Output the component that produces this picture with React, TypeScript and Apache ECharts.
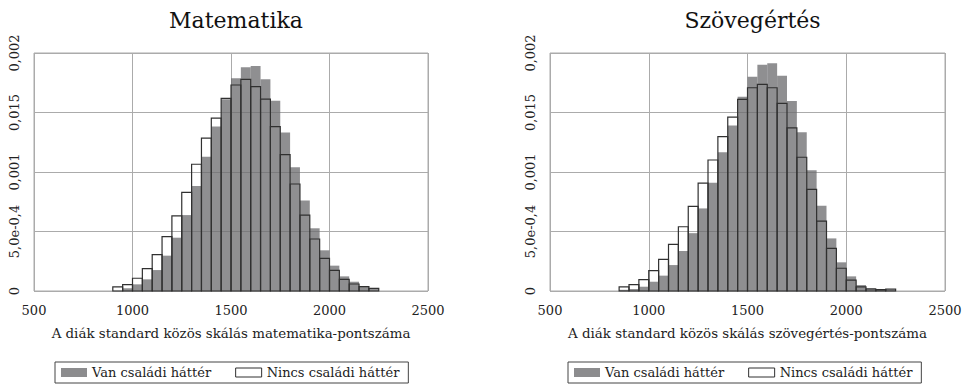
import React, { useEffect, useRef } from "react";
import * as echarts from "echarts";

const FONT = "DejaVu Serif";
const BIN_WIDTH = 50;

const titles = ["Matematika", "Szövegértés"];
const xAxisNames = [
  "A diák standard közös skálás matematika-pontszáma",
  "A diák standard közös skálás szövegértés-pontszáma",
];
const seriesNames = ["Van családi háttér", "Nincs családi háttér"];
const yTickLabels = ["0", "5,0e-0,4", "0,001", "0,015", "0,002"];

// Matematika: bins of 50 points starting at 900
const mathBinStart = 900;
const mathVan = [
  0, 0.000023, 0.000056, 0.000098, 0.000176, 0.000297, 0.000448, 0.000638, 0.000882,
  0.001129, 0.001382, 0.001611, 0.001787, 0.00188, 0.001891, 0.001779, 0.001599,
  0.001331, 0.001039, 0.000761, 0.000527, 0.000342, 0.000213, 0.000123, 0.000078,
  0.000042, 0.000025,
];
const mathNincs = [
  0.000034, 0.000053, 0.000107, 0.000188, 0.000305, 0.000457, 0.000632, 0.000829,
  0.001065, 0.001284, 0.001452, 0.001619, 0.001731, 0.001779, 0.001717, 0.001613,
  0.001381, 0.001146, 0.000899, 0.000638, 0.000437, 0.000275, 0.000174, 0.000098,
  0.000059, 0.000036, 0.000022,
];

// Szövegértés: bins of 50 points starting at 850
const readBinStart = 850;
const readVan = [
  0.00001, 0.000017, 0.000036, 0.000078, 0.000129, 0.000218, 0.000336, 0.000486,
  0.000694, 0.00091, 0.001166, 0.00139, 0.001633, 0.001801, 0.001902, 0.001913,
  0.001809, 0.001597, 0.001334, 0.001014, 0.000716, 0.000442, 0.000241, 0.000123,
  0.00005, 0.000025, 0.000013, 0.000017,
];
const readNincs = [
  0.000034, 0.000053, 0.000095, 0.000171, 0.000266, 0.000392, 0.00054, 0.000711,
  0.000907, 0.001101, 0.001298, 0.001461, 0.001611, 0.001708, 0.001737, 0.001708,
  0.001577, 0.001371, 0.001124, 0.000854, 0.000587, 0.000359, 0.000191, 0.000092,
  0.000034, 0.000017, 0.000011, 0.000017,
];

const GRAY_FILL = "rgba(108,108,110,0.76)";
const OUTLINE = "#303030";
const GRID_COLOR = "#ababab";

function toBins(start: number, values: number[]) {
  return values.map((v, i) => [start + i * BIN_WIDTH, start + (i + 1) * BIN_WIDTH, v]);
}

function makeRender(filled: boolean) {
  return (params: any, api: any) => {
    const x0 = api.value(0);
    const x1 = api.value(1);
    const v = api.value(2);
    if (!v) return null;
    const p0 = api.coord([x0, v]);
    const p1 = api.coord([x1, 0]);
    return {
      type: "rect",
      shape: { x: p0[0], y: p0[1], width: p1[0] - p0[0], height: p1[1] - p0[1] },
      style: filled
        ? { fill: GRAY_FILL, stroke: null }
        : { fill: "none", stroke: OUTLINE, lineWidth: 1.2 },
    };
  };
}

export default function App() {
  const ref = useRef<HTMLDivElement>(null);
  useEffect(() => {
    if (!ref.current) return;
    const chart = echarts.init(ref.current, undefined, { renderer: "svg" });
    const grids = [
      { left: 34, top: 53, width: 394, height: 238 },
      { left: 550, top: 53, width: 395, height: 238 },
    ];
    const centers = grids.map((g) => g.left + g.width / 2);
    const panels = [
      { start: mathBinStart, van: mathVan, nincs: mathNincs },
      { start: readBinStart, van: readVan, nincs: readNincs },
    ];
    const legendLefts = [55, 568];

    const option: any = {
      animation: false,
      backgroundColor: "#ffffff",
      title: titles.map((t, i) => ({
        text: t,
        left: centers[i],
        textAlign: "center",
        top: 4,
        textStyle: { fontFamily: FONT, fontSize: 22, fontWeight: "normal", color: "#111" },
      })),
      grid: grids.map((g) => ({
        ...g,
        show: true,
        borderColor: GRID_COLOR,
        borderWidth: 1,
        backgroundColor: "transparent",
      })),
      xAxis: grids.map((_, i) => ({
        type: "value",
        gridIndex: i,
        min: 500,
        max: 2500,
        interval: 500,
        name: xAxisNames[i],
        nameLocation: "middle",
        nameGap: 36,
        nameTextStyle: { fontFamily: FONT, fontSize: 13.4, color: "#222" },
        axisLine: { show: false },
        axisTick: { show: false },
        axisLabel: {
          fontFamily: FONT,
          fontSize: 13,
          color: "#222",
          margin: 13,
          formatter: (v: number) => String(v),
        },
        splitLine: { show: true, lineStyle: { color: GRID_COLOR, width: 1 } },
      })),
      yAxis: grids.map((_, i) => ({
        type: "value",
        gridIndex: i,
        min: 0,
        max: 0.002,
        interval: 0.0005,
        axisLine: { show: false },
        axisTick: { show: false },
        axisLabel: {
          fontFamily: FONT,
          fontSize: 13,
          color: "#222",
          rotate: 90,
          margin: 13,
          formatter: (v: number) => yTickLabels[Math.round(v / 0.0005)] ?? "",
        },
        splitLine: { show: true, lineStyle: { color: GRID_COLOR, width: 1 } },
      })),
      legend: legendLefts.map((l) => ({
        left: l,
        top: 362,
        orient: "horizontal",
        borderColor: "#444",
        borderWidth: 1,
        borderRadius: 0,
        padding: [4, 9, 4, 6],
        itemWidth: 26,
        itemHeight: 9,
        itemGap: 24,
        selectedMode: false,
        textStyle: { fontFamily: FONT, fontSize: 13, color: "#222" },
        data: [
          { name: seriesNames[0], icon: "rect", itemStyle: { color: "#8c8c8e", borderWidth: 0 } },
          {
            name: seriesNames[1],
            icon: "rect",
            itemStyle: { color: "#ffffff", borderColor: OUTLINE, borderWidth: 1 },
          },
        ],
      })),
      series: panels.flatMap((p, i) => [
        {
          type: "custom",
          name: seriesNames[0],
          xAxisIndex: i,
          yAxisIndex: i,
          renderItem: makeRender(true),
          encode: { x: [0, 1], y: 2 },
          itemStyle: { color: "#8c8c8e" },
          data: toBins(p.start, p.van),
          z: 2,
        },
        {
          type: "custom",
          name: seriesNames[1],
          xAxisIndex: i,
          yAxisIndex: i,
          renderItem: makeRender(false),
          encode: { x: [0, 1], y: 2 },
          itemStyle: { color: "#ffffff", borderColor: OUTLINE, borderWidth: 1 },
          data: toBins(p.start, p.nincs),
          z: 3,
        },
      ]),
    };
    chart.setOption(option);
    return () => chart.dispose();
  }, []);
  return (
    <div
      ref={ref}
      style={{ position: "fixed", left: 0, top: 0, width: 966, height: 386, background: "#fff" }}
    />
  );
}
